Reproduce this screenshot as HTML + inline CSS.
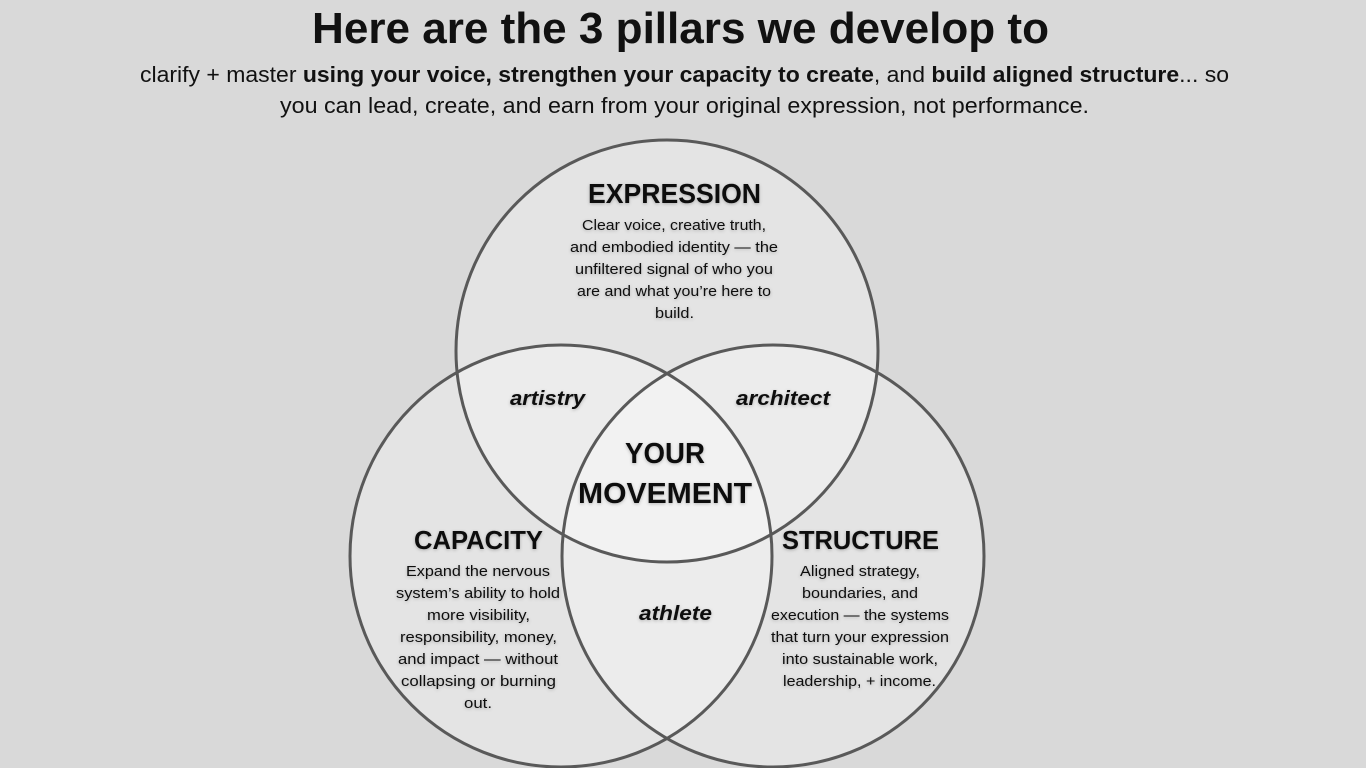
<!DOCTYPE html>
<html><head><meta charset="utf-8"><style>
html,body{margin:0;padding:0;background:#d9d9d9;}
svg{display:block;}
text{font-family:"Liberation Sans",sans-serif;fill:#111;}
.h{font-weight:bold;}
.b{font-size:15px;}
.i{font-weight:bold;font-style:italic;font-size:20px;}
</style></head><body>
<svg width="1366" height="768" viewBox="0 0 1366 768" xmlns="http://www.w3.org/2000/svg">
<defs><filter id="sh" x="-10%" y="-30%" width="120%" height="160%"><feDropShadow dx="0" dy="1" stdDeviation="1.5" flood-color="#000" flood-opacity="0.25"/></filter></defs>
<rect width="1366" height="768" fill="#d9d9d9"/>
<g fill="#ffffff" fill-opacity="0.3">
<circle cx="667" cy="351" r="211"/>
<circle cx="561" cy="556" r="211"/>
<circle cx="773" cy="556" r="211"/>
</g>
<g fill="none" stroke="#595959" stroke-width="3">
<circle cx="667" cy="351" r="211"/>
<circle cx="561" cy="556" r="211"/>
<circle cx="773" cy="556" r="211"/>
</g>
<text class="h" x="312" y="43" font-size="44" textLength="737" lengthAdjust="spacingAndGlyphs">Here are the 3 pillars we develop to</text>
<text x="140" y="82" font-size="22" textLength="1089" lengthAdjust="spacingAndGlyphs">clarify + master <tspan font-weight="bold">using your voice, strengthen your capacity to create</tspan>, and <tspan font-weight="bold">build aligned structure</tspan>... so</text>
<text x="280" y="113" font-size="22" textLength="809" lengthAdjust="spacingAndGlyphs">you can lead, create, and earn from your original expression, not performance.</text>
<g filter="url(#sh)">
<text class="h" x="588" y="203" font-size="28" textLength="173" lengthAdjust="spacingAndGlyphs">EXPRESSION</text>
<g class="b">
<text x="582" y="230" textLength="184" lengthAdjust="spacingAndGlyphs">Clear voice, creative truth,</text>
<text x="570" y="252" textLength="208" lengthAdjust="spacingAndGlyphs">and embodied identity — the</text>
<text x="575" y="274" textLength="198" lengthAdjust="spacingAndGlyphs">unfiltered signal of who you</text>
<text x="577" y="296" textLength="194" lengthAdjust="spacingAndGlyphs">are and what you’re here to</text>
<text x="655" y="318" textLength="39" lengthAdjust="spacingAndGlyphs">build.</text>
</g>
<text class="i" x="510" y="405" textLength="75" lengthAdjust="spacingAndGlyphs">artistry</text>
<text class="i" x="736" y="405" textLength="94" lengthAdjust="spacingAndGlyphs">architect</text>
<text class="h" x="625" y="463" font-size="29" textLength="80" lengthAdjust="spacingAndGlyphs">YOUR</text>
<text class="h" x="578" y="503" font-size="29" textLength="174" lengthAdjust="spacingAndGlyphs">MOVEMENT</text>
<text class="h" x="414" y="549" font-size="26" textLength="129" lengthAdjust="spacingAndGlyphs">CAPACITY</text>
<g class="b">
<text x="406" y="576" textLength="144" lengthAdjust="spacingAndGlyphs">Expand the nervous</text>
<text x="396" y="598" textLength="164" lengthAdjust="spacingAndGlyphs">system’s ability to hold</text>
<text x="427" y="620" textLength="103" lengthAdjust="spacingAndGlyphs">more visibility,</text>
<text x="400" y="642" textLength="157" lengthAdjust="spacingAndGlyphs">responsibility, money,</text>
<text x="398" y="664" textLength="160" lengthAdjust="spacingAndGlyphs">and impact — without</text>
<text x="401" y="686" textLength="155" lengthAdjust="spacingAndGlyphs">collapsing or burning</text>
<text x="464" y="708" textLength="28" lengthAdjust="spacingAndGlyphs">out.</text>
</g>
<text class="h" x="782" y="549" font-size="26" textLength="157" lengthAdjust="spacingAndGlyphs">STRUCTURE</text>
<g class="b">
<text x="800" y="576" textLength="120" lengthAdjust="spacingAndGlyphs">Aligned strategy,</text>
<text x="802" y="598" textLength="116" lengthAdjust="spacingAndGlyphs">boundaries, and</text>
<text x="771" y="620" textLength="178" lengthAdjust="spacingAndGlyphs">execution — the systems</text>
<text x="771" y="642" textLength="178" lengthAdjust="spacingAndGlyphs">that turn your expression</text>
<text x="782" y="664" textLength="156" lengthAdjust="spacingAndGlyphs">into sustainable work,</text>
<text x="783" y="686" textLength="153" lengthAdjust="spacingAndGlyphs">leadership, + income.</text>
</g>
<text class="i" x="639" y="620" textLength="73" lengthAdjust="spacingAndGlyphs">athlete</text>
</g>
</svg>
</body></html>
